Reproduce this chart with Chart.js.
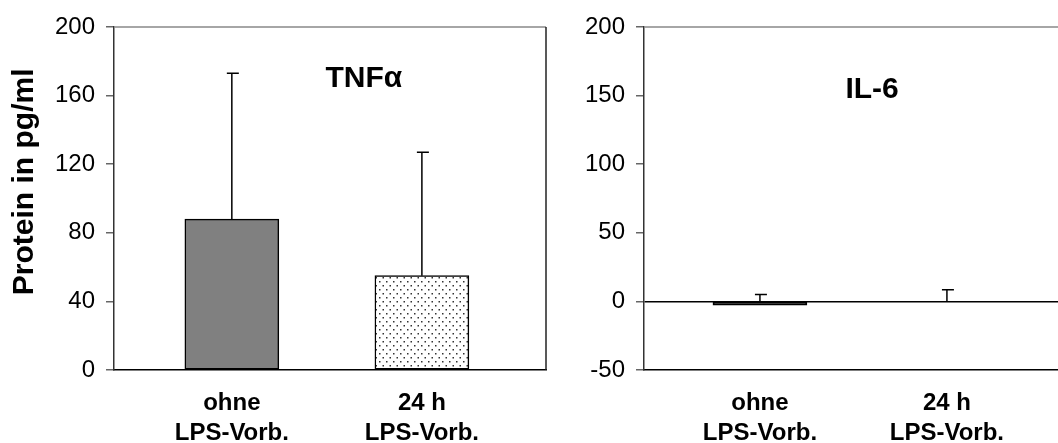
<!DOCTYPE html>
<html>
<head>
<meta charset="utf-8">
<script src="https://cdn.jsdelivr.net/npm/chart.js@4.4.1/dist/chart.umd.min.js"></script>
<style>
  html, body { margin: 0; padding: 0; background: #fff; }
  #wrap { position: relative; width: 1058px; height: 443px; overflow: hidden; }
  .panel { position: absolute; top: 0; height: 443px; }
  #leftPanel { left: 0; width: 556px; }
  #rightPanel { left: 556px; width: 502px; }
</style>
</head>
<body>
<div id="wrap">
  <div class="panel" id="leftPanel"><canvas id="tnfChart"></canvas></div>
  <div class="panel" id="rightPanel"><canvas id="il6Chart"></canvas></div>
</div>
<script>
// data
const categories = [['ohne', 'LPS-Vorb.'], ['24 h', 'LPS-Vorb.']];
const tnfValues = [88, 55];
const tnfErrors = [85, 72];
const il6Values = [-2.8, 0];
const il6Errors = [7.8, 8.5];
const tnfTicks = [0, 40, 80, 120, 160, 200];
const il6Ticks = [-50, 0, 50, 100, 150, 200];

Chart.defaults.font.family = '"Liberation Sans", Arial, sans-serif';
Chart.defaults.color = '#000';

// dotted fill for the second bar
function dotPattern() {
    const c = document.createElement('canvas');
    c.width = 7;
    c.height = 8;
    const g = c.getContext('2d');
    g.fillStyle = '#fff';
    g.fillRect(0, 0, 7, 8);
    g.fillStyle = '#333';
    g.fillRect(1, 1, 1.5, 1.5);
    g.fillRect(4.5, 5, 1.5, 1.5);
    return g.createPattern(c, 'repeat');
}

// error bars (upper only) + frame + panel title
const extrasPlugin = {
    id: 'extras',
    afterDatasetsDraw(chart) {
        const ctx = chart.ctx;
        const x = chart.scales.x, y = chart.scales.y;
        const ds = chart.data.datasets[0];
        ctx.save();
        ctx.strokeStyle = '#000';
        ctx.lineWidth = 1.5;
        ds.data.forEach((pt, i) => {
            const px = x.getPixelForValue(pt.x);
            const base = y.getPixelForValue(Math.max(pt.y, 0));
            const top = y.getPixelForValue(pt.y + ds.errors[i]);
            ctx.beginPath();
            ctx.moveTo(px, base);
            ctx.lineTo(px, top);
            ctx.moveTo(px - 5, top);
            ctx.lineTo(px + 7, top);
            ctx.stroke();
        });
        const a = chart.chartArea;
        ctx.strokeStyle = '#888';
        ctx.beginPath();
        ctx.moveTo(a.left, a.top);
        ctx.lineTo(a.right, a.top);
        ctx.stroke();
        if (chart.options.plugins.extras.rightBorder) {
            ctx.strokeStyle = '#222';
            ctx.beginPath();
            ctx.moveTo(a.right, a.top);
            ctx.lineTo(a.right, a.bottom);
            ctx.stroke();
        }
        const t = chart.options.plugins.extras;
        ctx.fillStyle = '#000';
        ctx.font = 'bold 30px "Liberation Sans", Arial, sans-serif';
        ctx.textAlign = 'center';
        ctx.textBaseline = 'alphabetic';
        ctx.fillText(t.title, x.getPixelForValue(t.titleX), y.getPixelForValue(t.titleY));
        ctx.restore();
    }
};

function makeChart(id, values, errors, ticks, opts) {
    return new Chart(document.getElementById(id), {
        type: 'bar',
        data: {
            datasets: [{
                data: values.map((v, i) => ({ x: i, y: v })),
                errors: errors,
                backgroundColor: opts.colors,
                borderColor: '#000',
                borderWidth: 1.5,
                borderSkipped: false,
                barThickness: 94
            }]
        },
        options: {
            responsive: true,
            maintainAspectRatio: false,
            animation: false,
            layout: { padding: { top: 27, right: opts.padRight, left: 0, bottom: 0 } },
            plugins: {
                legend: { display: false },
                tooltip: { enabled: false },
                extras: opts.extras
            },
            scales: {
                x: {
                    type: 'linear',
                    offset: false,
                    min: -0.62,
                    max: opts.xMax,
                    afterBuildTicks: axis => { axis.ticks = categories.map((c, i) => ({ value: i })); },
                    afterFit: s => { s.height = 73; },
                    ticks: {
                        padding: 10,
                        font: { size: 24, weight: 'bold', lineHeight: 1.25 },
                        maxRotation: 0,
                        autoSkip: false,
                        callback: (v, i) => categories[i]
                    },
                    grid: { display: false, offset: false },
                    border: { display: true, color: '#000', width: 1.5 }
                },
                y: {
                    min: ticks[0],
                    max: ticks[ticks.length - 1],
                    afterBuildTicks: axis => { axis.ticks = ticks.map(v => ({ value: v })); },
                    afterFit: s => { s.width = opts.yWidth; },
                    ticks: { padding: 11, font: { size: 24 } },
                    grid: {
                        drawOnChartArea: true,
                        color: c => (c.tick && c.tick.value === 0 && ticks[0] < 0) ? '#000' : 'rgba(0,0,0,0)',
                        lineWidth: 1.5,
                        tickColor: '#666',
                        tickLength: 8,
                        tickWidth: 1.5
                    },
                    border: { display: true, color: '#333', width: 1.5 },
                    title: opts.yTitle
                }
            }
        },
        plugins: [extrasPlugin]
    });
}

makeChart('tnfChart', tnfValues, tnfErrors, tnfTicks, {
    colors: ['#808080', dotPattern()],
    padRight: 10,
    xMax: 1.653,
    yWidth: 114,
    yTitle: {
        display: true,
        text: '    Protein in pg/ml',
        font: { size: 30, weight: 'bold', lineHeight: 1.2 },
        padding: { top: 7, bottom: 0 }
    },
    extras: { title: 'TNFα', titleX: 0.695, titleY: 165, rightBorder: true }
});

makeChart('il6Chart', il6Values, il6Errors, il6Ticks, {
    colors: ['#222', '#fff'],
    padRight: 0,
    xMax: 1.594,
    yWidth: 88,
    yTitle: { display: false },
    extras: { title: 'IL-6', titleX: 0.6, titleY: 148, rightBorder: false }
});
</script>
</body>
</html>
